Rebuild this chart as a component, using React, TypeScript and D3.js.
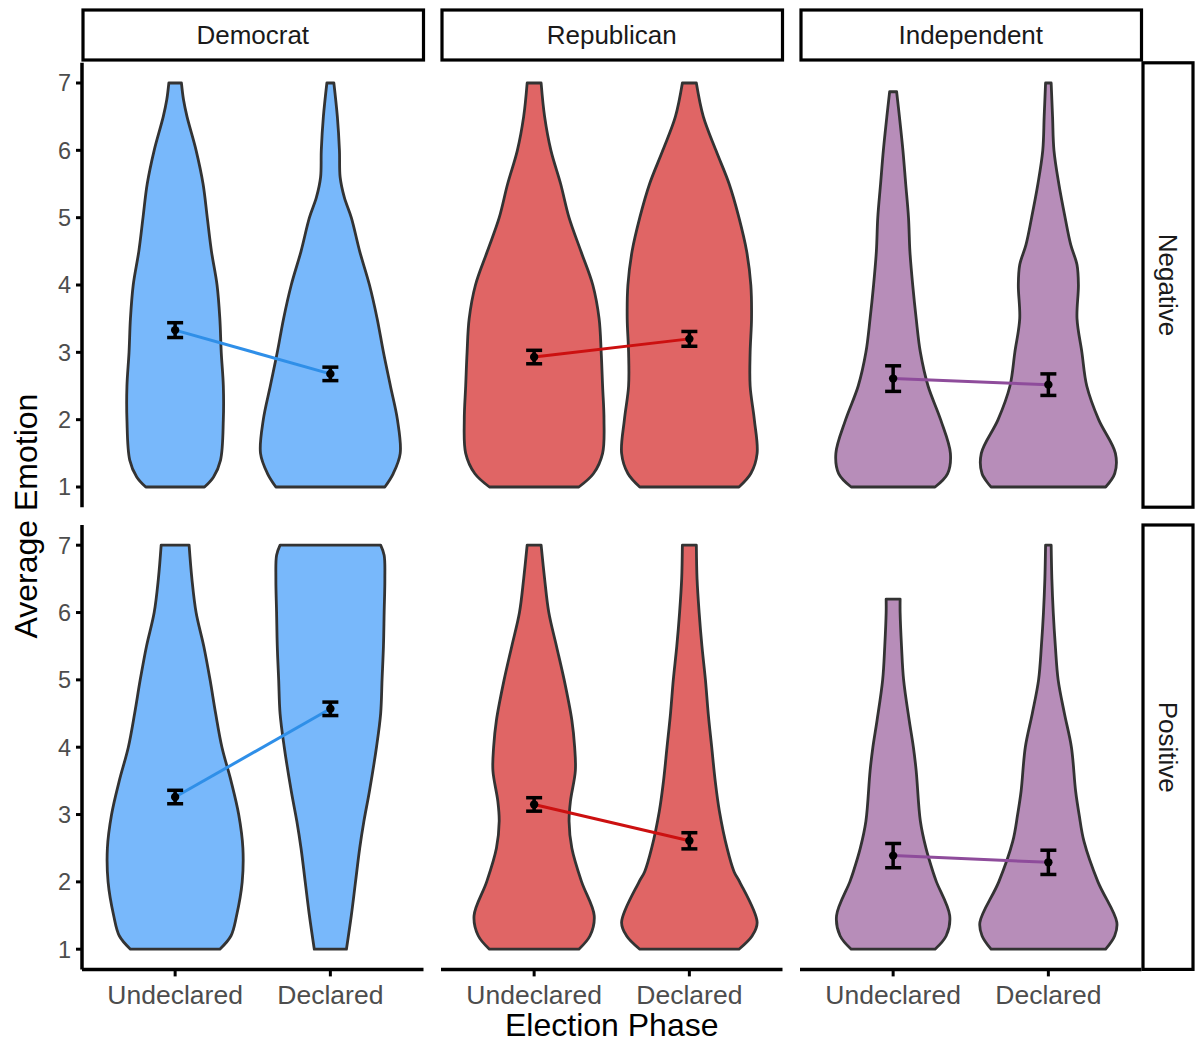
import React from 'react';
import * as d3 from 'd3';

const parties = ['Democrat', 'Republican', 'Independent'];
const emotions = ['Negative', 'Positive'];
const phases = ['Undeclared', 'Declared'];
const yTicks = [1, 2, 3, 4, 5, 6, 7];
const fillColors = ['#78b8fb', '#e06565', '#b78db9'];
const lineColors = ['#2f8fe8', '#cc1010', '#8e4c9b'];

// group means [party][phase]
const negMeans = [[3.33, 2.68], [2.93, 3.2], [2.61, 2.52]];
const negErr = [[0.11, 0.1], [0.1, 0.11], [0.19, 0.16]];
const posMeans = [[3.26, 4.57], [3.15, 2.61], [2.39, 2.29]];
const posErr = [[0.1, 0.1], [0.1, 0.12], [0.18, 0.18]];

// violin density profiles: [value, relative density]
const demNegUnd = [[1, .42], [1.15, .55], [1.4, .65], [2, .69], [2.5, .69], [3, .66], [3.5, .64], [4, .6], [4.5, .52], [5, .46], [5.5, .4], [6, .3], [6.5, .17], [6.75, .12], [7, .09]];
const demNegDec = [[1, .78], [1.2, .9], [1.5, 1.0], [2, .96], [2.5, .86], [3, .76], [3.5, .67], [4, .56], [4.5, .42], [5, .3], [5.3, .2], [5.6, .14], [6, .13], [6.5, .1], [7, .05]];
const repNegUnd = [[1, .64], [1.2, .85], [1.5, .98], [2, 1.0], [2.5, .98], [3, .96], [3.5, .93], [4, .84], [4.5, .67], [5, .5], [5.5, .38], [6, .24], [6.5, .15], [7, .1]];
const repNegDec = [[1, .71], [1.2, .88], [1.5, .97], [2, .93], [2.5, .87], [3, .87], [3.5, .89], [4, .88], [4.5, .82], [5, .71], [5.5, .57], [6, .38], [6.5, .2], [7, .1]];
const indNegUnd = [[1, .6], [1.2, .78], [1.5, .82], [2, .68], [2.5, .5], [3, .39], [3.5, .33], [4, .28], [4.5, .24], [5, .22], [5.5, .18], [6, .14], [6.5, .09], [6.87, .05]];
const indNegDec = [[1, .82], [1.2, .95], [1.5, .96], [2, .72], [2.5, .55], [3, .48], [3.5, .41], [4, .43], [4.3, .41], [4.6, .32], [5, .24], [5.5, .15], [6, .08], [6.5, .06], [7, .04]];
const demPosUnd = [[1, .64], [1.2, .8], [1.5, .88], [2, .96], [2.5, .97], [3, .91], [3.5, .8], [4, .67], [4.5, .58], [5, .5], [5.5, .41], [6, .3], [6.5, .24], [7, .2]];
const demPosDec = [[1, .23], [1.5, .3], [2, .36], [2.5, .42], [2.9, .48], [3.35, .56], [4, .66], [4.5, .72], [5, .74], [5.5, .76], [6, .77], [6.5, .78], [6.85, .77], [7, .72]];
const repPosUnd = [[1, .64], [1.2, .8], [1.5, .86], [2, .68], [2.5, .54], [2.9, .5], [3.2, .52], [3.65, .59], [4, .58], [4.4, .54], [5, .43], [5.5, .32], [6, .21], [6.5, .15], [7, .1]];
const repPosDec = [[1, .71], [1.2, .9], [1.4, .97], [2, .72], [2.15, .64], [2.5, .54], [3.05, .43], [3.5, .37], [4, .32], [4.5, .27], [5, .23], [5.5, .18], [6, .14], [6.5, .11], [7, .1]];
const indPosUnd = [[1, .6], [1.2, .76], [1.5, .81], [2, .62], [2.15, .57], [2.5, .47], [2.9, .39], [3.65, .33], [4, .29], [4.4, .23], [5, .15], [5.5, .12], [6, .1], [6.2, .1]];
const indPosDec = [[1, .82], [1.2, .95], [1.4, .98], [2, .71], [2.6, .51], [3, .44], [3.35, .39], [4, .33], [4.5, .23], [5, .14], [5.5, .1], [6, .07], [6.5, .05], [7, .04]];

const violins = [
  [[demNegUnd, demNegDec], [repNegUnd, repNegDec], [indNegUnd, indNegDec]],
  [[demPosUnd, demPosDec], [repPosUnd, repPosDec], [indPosUnd, indPosDec]],
];
const means = [negMeans, posMeans];
const errs = [negErr, posErr];

const W = 1197;
const H = 1044;
const panelLeft = 82;
const panelW = 341.5;
const panelGap = 17.5;
const rowTop = [62.8, 525];
const rowH = 444.4;
const stripTop = 10;
const stripH = 50;
const rStripX = 1143;
const rStripW = 50;

const FONT = "'Liberation Sans', Arial, sans-serif";

export default function App() {
  const x = d3.scalePoint<string>().domain(phases).range([0, panelW]).padding(0.6);
  const step = x.step();
  const wScale = d3.scaleLinear().domain([0, 1]).range([0, 0.45 * step]);

  return (
    <svg width={W} height={H} style={{ position: 'absolute', left: 0, top: 0, background: '#fff' }} fontFamily={FONT}>
      <rect x={0} y={0} width={W} height={H} fill="#fff" />
      {emotions.map((em, ri) => {
        const y = d3.scaleLinear().domain([0.7, 7.3]).range([rowTop[ri] + rowH, rowTop[ri]]);
        return (
          <g key={em}>
            {parties.map((p, ci) => {
              const px = panelLeft + ci * (panelW + panelGap);
              const pts = phases.map((ph, k) => ({ cx: px + (x(ph) as number), m: means[ri][ci][k], e: errs[ri][ci][k] }));
              return (
                <g key={p}>
                  {phases.map((ph, k) => {
                    const cx = px + (x(ph) as number);
                    const area = d3.area<number[]>()
                      .y(d => y(d[0]))
                      .x0(d => cx - wScale(d[1]))
                      .x1(d => cx + wScale(d[1]))
                      .curve(d3.curveCatmullRom.alpha(0.5));
                    return (
                      <path key={ph} d={area(violins[ri][ci][k] as number[][]) || ''}
                        fill={fillColors[ci]} stroke="#333333" strokeWidth={2.8} strokeLinejoin="round" />
                    );
                  })}
                  <line x1={pts[0].cx} y1={y(pts[0].m)} x2={pts[1].cx} y2={y(pts[1].m)}
                    stroke={lineColors[ci]} strokeWidth={3} />
                  {pts.map((d, k) => (
                    <g key={k}>
                      <line x1={d.cx} x2={d.cx} y1={y(d.m - d.e)} y2={y(d.m + d.e)} stroke="#000" strokeWidth={3.5} />
                      <line x1={d.cx - 8} x2={d.cx + 8} y1={y(d.m - d.e)} y2={y(d.m - d.e)} stroke="#000" strokeWidth={3.5} />
                      <line x1={d.cx - 8} x2={d.cx + 8} y1={y(d.m + d.e)} y2={y(d.m + d.e)} stroke="#000" strokeWidth={3.5} />
                      <circle cx={d.cx} cy={y(d.m)} r={4.2} fill="#000" />
                    </g>
                  ))}
                </g>
              );
            })}
            {/* y axis */}
            <line x1={panelLeft} x2={panelLeft} y1={rowTop[ri]} y2={rowTop[ri] + rowH} stroke="#000" strokeWidth={3.5} />
            {yTicks.map(t => (
              <g key={t}>
                <line x1={panelLeft - 6} x2={panelLeft} y1={y(t)} y2={y(t)} stroke="#000" strokeWidth={3} />
                <text x={panelLeft - 11} y={y(t)} dy="0.36em" textAnchor="end" fontSize={23.5} fill="#4d4d4d">{t}</text>
              </g>
            ))}
            {/* right strip */}
            <rect x={rStripX} y={rowTop[ri]} width={rStripW} height={rowH} fill="#fff" stroke="#000" strokeWidth={3.2} />
            <text transform={`translate(${rStripX + rStripW / 2},${rowTop[ri] + rowH / 2}) rotate(90)`}
              textAnchor="middle" dy="0.36em" fontSize={26} fill="#1a1a1a">{em}</text>
          </g>
        );
      })}
      {parties.map((p, ci) => {
        const px = panelLeft + ci * (panelW + panelGap);
        const by = rowTop[1] + rowH;
        return (
          <g key={p}>
            <rect x={px + 1} y={stripTop} width={panelW - 1} height={stripH} fill="#fff" stroke="#000" strokeWidth={3.2} />
            <text x={px + panelW / 2} y={stripTop + stripH / 2} dy="0.36em" textAnchor="middle" fontSize={26} fill="#1a1a1a">{p}</text>
            <line x1={px} x2={px + panelW} y1={by} y2={by} stroke="#000" strokeWidth={3.5} />
            {phases.map(ph => (
              <g key={ph}>
                <line x1={px + (x(ph) as number)} x2={px + (x(ph) as number)} y1={by} y2={by + 7} stroke="#000" strokeWidth={3} />
                <text x={px + (x(ph) as number)} y={by + 35} textAnchor="middle" fontSize={26.5} fill="#4d4d4d">{ph}</text>
              </g>
            ))}
          </g>
        );
      })}
      <text x={panelLeft + (3 * panelW + 2 * panelGap) / 2} y={1036} textAnchor="middle" fontSize={32} fill="#000">Election Phase</text>
      <text transform={`translate(${37},${(rowTop[0] + rowTop[1] + rowH) / 2}) rotate(-90)`} textAnchor="middle" fontSize={32} fill="#000">Average Emotion</text>
    </svg>
  );
}
